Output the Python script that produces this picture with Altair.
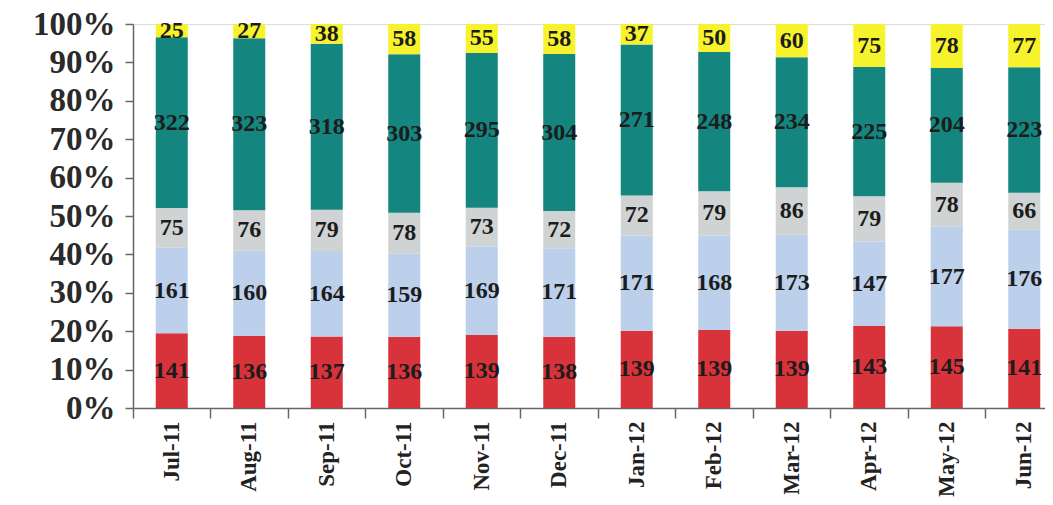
import altair as alt
import pandas as pd

months = ["Jul-11", "Aug-11", "Sep-11", "Oct-11", "Nov-11", "Dec-11",
          "Jan-12", "Feb-12", "Mar-12", "Apr-12", "May-12", "Jun-12"]
series_names = ["Series 1", "Series 2", "Series 3", "Series 4", "Series 5"]
s1_red = [141, 136, 137, 136, 139, 138, 139, 139, 139, 143, 145, 141]
s2_blue = [161, 160, 164, 159, 169, 171, 171, 168, 173, 147, 177, 176]
s3_gray = [75, 76, 79, 78, 73, 72, 72, 79, 86, 79, 78, 66]
s4_teal = [322, 323, 318, 303, 295, 304, 271, 248, 234, 225, 204, 223]
s5_yellow = [25, 27, 38, 58, 55, 58, 37, 50, 60, 75, 78, 77]
colors = ["#d8333b", "#bcd0ec", "#d0d3d3", "#14857f", "#f6f22c"]
y_ticks = [0, 0.1, 0.2, 0.3, 0.4, 0.5, 0.6, 0.7, 0.8, 0.9, 1.0]

rows = []
for k, vals in enumerate([s1_red, s2_blue, s3_gray, s4_teal, s5_yellow]):
    for m, v in zip(months, vals):
        rows.append({"month": m, "series": series_names[k], "order": k, "value": v})
df = pd.DataFrame(rows)

FONT = "Liberation Serif"

base = alt.Chart(df).transform_stack(
    stack="value", groupby=["month"], as_=["y0", "y1"],
    offset="normalize", sort=[alt.SortField("order", order="ascending")]
).transform_calculate(mid="(datum.y0 + datum.y1) / 2")

x_axis = alt.Axis(labelAngle=-90, labelAlign="right", labelBaseline="middle",
                  labelFont=FONT, labelFontWeight="bold", labelFontSize=23,
                  labelColor="#222222", labelPadding=3, tickSize=10,
                  bandPosition=0, domainColor="#666666", tickColor="#666666",
                  domainWidth=1.5, tickWidth=1.5, grid=False, labelOverlap=False)
x_scale = alt.Scale(domain=months, range=[0, 930], paddingInner=0, paddingOuter=0)

y_axis = alt.Axis(values=y_ticks, format=".0%", labelFont=FONT,
                  labelFontWeight="bold", labelFontSize=33, labelColor="#2a2a2a",
                  labelPadding=10, tickSize=8, domainColor="#666666",
                  tickColor="#666666", domainWidth=1.5, tickWidth=1.5, grid=False,
                  labelOverlap=False, labelFlush=False, tickCount=11)
y_scale = alt.Scale(domain=[0, 1], nice=False)

bars = base.mark_bar(width=32).encode(
    x=alt.X("month:N", sort=months, title=None, scale=x_scale, axis=x_axis),
    y=alt.Y("y0:Q", title=None, scale=y_scale, axis=y_axis),
    y2="y1:Q",
    color=alt.Color("series:N", scale=alt.Scale(domain=series_names, range=colors), legend=None),
)

labels = base.mark_text(font=FONT, fontWeight="bold", fontSize=24, baseline="middle",
                        align="center", color="#1c1c1c").encode(
    x=alt.X("month:N", sort=months, title=None, scale=x_scale, axis=x_axis),
    y=alt.Y("mid:Q", title=None, scale=y_scale, axis=y_axis),
    text=alt.Text("value:Q"),
)

chart = alt.layer(bars, labels).properties(
    width=912, height=384,
    padding={"left": 125, "top": 16, "right": 0, "bottom": 89},
    autosize=alt.AutoSizeParams(type="none"),
).configure_view(stroke=None).configure(background="white")

chart.save("out.html", embed_options={"renderer": "svg", "actions": False})
